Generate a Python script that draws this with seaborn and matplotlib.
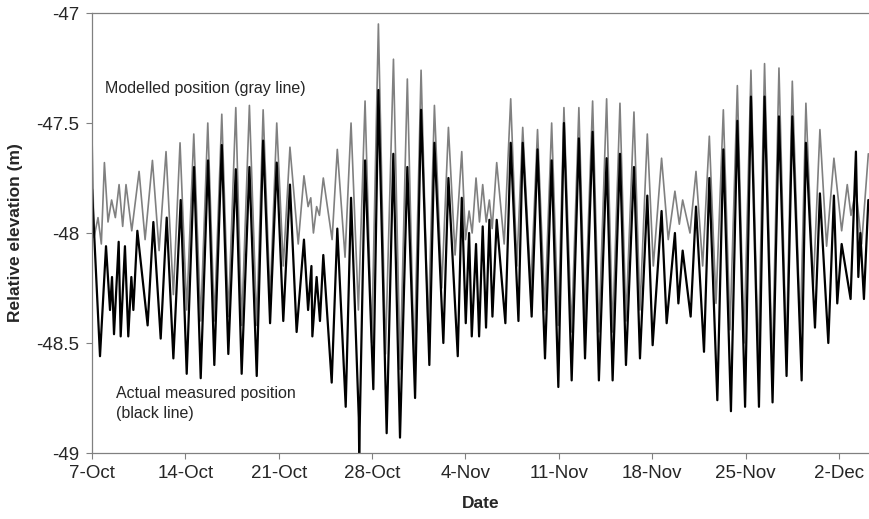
import numpy as np
import pandas as pd
import seaborn as sns
import matplotlib
matplotlib.use("Agg")
import matplotlib.pyplot as plt

# days since 7-Oct, elevation (m) -- tidal highs/lows
gray_day = [0.00, 0.15, 0.45, 0.70, 0.93, 1.20, 1.47, 1.75, 2.03, 2.30, 2.55, 2.98, 3.53, 3.98,
            4.53, 5.03, 5.55, 6.10, 6.60, 7.10, 7.63, 8.15, 8.68, 9.17, 9.73, 10.22, 10.78, 11.22,
            11.80, 12.35, 12.83, 13.35, 13.85, 14.34, 14.84, 15.46, 15.89, 16.20, 16.40, 16.60,
            16.84, 17.05, 17.34, 18.00, 18.39, 18.97, 19.42, 19.97, 20.47, 20.97, 21.47, 22.00,
            22.60, 23.10, 23.64, 24.15, 24.67, 25.20, 25.67, 26.22, 26.72, 27.22, 27.72, 28.00,
            28.27, 28.50, 28.79, 29.05, 29.29, 29.55, 29.79, 30.00, 30.34, 30.90, 31.39, 31.85,
            32.29, 32.90, 33.40, 33.95, 34.46, 34.95, 35.38, 35.95, 36.50, 36.95, 37.53, 38.00,
            38.58, 39.03, 39.58, 40.03, 40.63, 41.08, 41.63, 42.08, 42.70, 43.20, 43.70, 44.03,
            44.28, 44.83, 45.28, 45.78, 46.28, 46.78, 47.33, 47.83, 48.38, 48.88, 49.40, 49.95,
            50.42, 51.00, 51.50, 52.05, 52.50, 53.10, 53.52, 54.07, 54.57, 55.07, 55.62, 56.20,
            56.62, 56.90, 57.27, 57.70, 58.20]
gray_elev = [-47.56, -48.02, -47.93, -48.05, -47.68, -47.95, -47.85, -47.93, -47.78, -47.97,
             -47.78, -47.99, -47.72, -48.03, -47.67, -48.08, -47.63, -48.28, -47.59, -48.35,
             -47.55, -48.40, -47.50, -48.40, -47.46, -48.38, -47.43, -48.42, -47.42, -48.42,
             -47.44, -48.30, -47.50, -48.15, -47.61, -48.05, -47.74, -47.88, -47.84, -48.00,
             -47.88, -47.92, -47.75, -48.03, -47.62, -48.11, -47.50, -48.35, -47.40, -48.50,
             -47.05, -48.55, -47.21, -48.62, -47.30, -48.60, -47.26, -48.45, -47.42, -48.25,
             -47.52, -48.10, -47.63, -48.03, -47.90, -48.00, -47.75, -47.95, -47.78, -47.95,
             -47.85, -47.98, -47.68, -48.05, -47.39, -48.15, -47.52, -48.25, -47.53, -48.35,
             -47.50, -48.42, -47.43, -48.45, -47.43, -48.40, -47.40, -48.45, -47.39, -48.45,
             -47.41, -48.40, -47.45, -48.35, -47.55, -48.15, -47.66, -48.03, -47.81, -47.96,
             -47.85, -48.00, -47.72, -48.15, -47.56, -48.32, -47.44, -48.44, -47.33, -48.50,
             -47.26, -48.58, -47.23, -48.62, -47.25, -48.55, -47.31, -48.45, -47.41, -48.25,
             -47.53, -48.06, -47.66, -47.99, -47.78, -47.92, -47.80, -48.05, -47.64]

black_day = [0.00, 0.60, 1.05, 1.35, 1.50, 1.65, 2.00, 2.15, 2.47, 2.72, 2.95, 3.10, 3.40, 4.17,
             4.60, 5.15, 5.60, 6.10, 6.65, 7.10, 7.65, 8.15, 8.70, 9.17, 9.73, 10.22, 10.78, 11.22,
             11.80, 12.35, 12.83, 13.35, 13.85, 14.34, 14.84, 15.34, 15.89, 16.20, 16.45, 16.52,
             16.84, 17.09, 17.34, 17.97, 18.39, 19.02, 19.42, 20.00, 20.03, 20.47, 21.09, 21.47,
             22.09, 22.59, 23.09, 23.64, 24.22, 24.67, 25.29, 25.67, 26.34, 26.72, 27.42, 27.72,
             28.02, 28.27, 28.47, 28.79, 29.02, 29.29, 29.54, 29.79, 30.02, 30.34, 30.99, 31.39,
             31.97, 32.29, 32.96, 33.40, 33.96, 34.46, 34.96, 35.38, 35.96, 36.50, 36.96, 37.53,
             38.00, 38.58, 39.03, 39.58, 40.03, 40.63, 41.08, 41.63, 42.03, 42.70, 43.08, 43.70,
             43.96, 44.28, 44.88, 45.28, 45.88, 46.28, 46.88, 47.33, 47.90, 48.38, 48.96, 49.40,
             50.00, 50.42, 51.02, 51.50, 52.07, 52.50, 53.20, 53.52, 54.20, 54.57, 55.20, 55.62,
             55.87, 56.20, 56.87, 57.27, 57.45, 57.60, 57.87, 58.20]
black_elev = [-47.80, -48.56, -48.06, -48.35, -48.20, -48.46, -48.04, -48.47, -48.06, -48.47,
              -48.20, -48.35, -47.99, -48.42, -47.95, -48.48, -47.93, -48.57, -47.85, -48.64,
              -47.70, -48.66, -47.67, -48.60, -47.60, -48.55, -47.71, -48.64, -47.70, -48.65,
              -47.58, -48.41, -47.68, -48.40, -47.78, -48.45, -48.03, -48.35, -48.15, -48.47,
              -48.20, -48.40, -48.10, -48.68, -47.98, -48.79, -47.84, -48.84, -49.00, -47.67,
              -48.71, -47.35, -48.91, -47.64, -48.93, -47.70, -48.75, -47.44, -48.60, -47.59,
              -48.50, -47.75, -48.56, -47.84, -48.41, -48.00, -48.47, -48.05, -48.47, -47.97,
              -48.43, -47.94, -48.38, -47.94, -48.41, -47.59, -48.40, -47.59, -48.38, -47.62,
              -48.57, -47.67, -48.70, -47.50, -48.67, -47.57, -48.57, -47.54, -48.67, -47.66,
              -48.67, -47.64, -48.60, -47.70, -48.57, -47.83, -48.51, -47.90, -48.41, -48.00,
              -48.32, -48.08, -48.38, -47.88, -48.54, -47.75, -48.76, -47.62, -48.81, -47.49,
              -48.79, -47.38, -48.79, -47.38, -48.77, -47.47, -48.65, -47.47, -48.67, -47.59,
              -48.43, -47.82, -48.50, -47.83, -48.32, -48.05, -48.30, -47.63, -48.20, -48.00,
              -48.30, -47.85]

tick_days = [0, 7, 14, 21, 28, 35, 42, 49, 56]
tick_labels = ["7-Oct", "14-Oct", "21-Oct", "28-Oct", "4-Nov", "11-Nov", "18-Nov", "25-Nov", "2-Dec"]
y_ticks = [-49, -48.5, -48, -47.5, -47]
y_labels = ["-49", "-48.5", "-48", "-47.5", "-47"]

modelled = pd.DataFrame({"day": gray_day, "elev": gray_elev})
measured = pd.DataFrame({"day": black_day, "elev": black_elev})

sns.set_style("ticks")
plt.rcParams['font.family'] = ['Liberation Sans', 'DejaVu Sans']

fig = plt.figure(figsize=(8.69, 5.19), dpi=100)
ax = fig.add_axes([92 / 869, 1 - 453 / 519, 1 - 92 / 869, 440 / 519])

sns.lineplot(data=modelled, x="day", y="elev", color="#808080", lw=1.2,
             estimator=None, solid_joinstyle="round", ax=ax)
sns.lineplot(data=measured, x="day", y="elev", color="black", lw=1.6,
             estimator=None, solid_joinstyle="round", ax=ax)

ax.set_xlim(0, 58.25)
ax.set_ylim(-49, -47)
ax.set_xticks(tick_days)
ax.set_xticklabels(tick_labels, fontsize=13.5)
ax.set_yticks(y_ticks)
ax.set_yticklabels(y_labels, fontsize=13.5)
ax.tick_params(direction="out", length=4, width=0.8, color="#808080", pad=5)

for side in ["left", "bottom", "top"]:
    ax.spines[side].set_color("#808080")
    ax.spines[side].set_linewidth(0.9)
ax.spines["right"].set_visible(False)

ax.set_xlabel("Date", fontweight="bold", fontsize=12.5, labelpad=10)
ax.set_ylabel("Relative elevation (m)", fontweight="bold", fontsize=12.5, labelpad=10)

ax.text(0.97, -47.342, "Modelled position (gray line)", fontsize=11.5, va="center")
ax.text(1.8, -48.73, "Actual measured position", fontsize=11.5, va="center")
ax.text(1.8, -48.82, "(black line)", fontsize=11.5, va="center")

fig.savefig("out.png", dpi=100)
